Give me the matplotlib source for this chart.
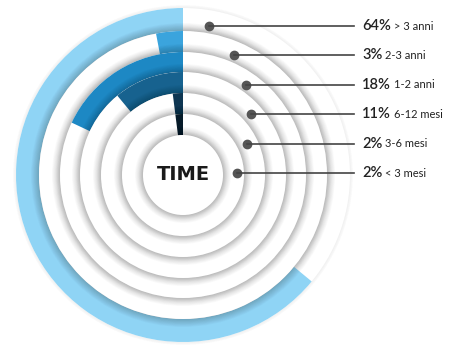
import numpy as np
import matplotlib.pyplot as plt

# data
labels = ['> 3 anni', '2-3 anni', '1-2 anni', '6-12 mesi', '3-6 mesi', '< 3 mesi']
percent = [64, 3, 18, 11, 2, 2]
colors = ['#8fd4f5', '#3ba4dd', '#1d88c4', '#17628f', '#0e3652', '#061b29']

# ring edges (outer -> inner), last one is the TIME disc
ring_edges = [167, 144, 123, 103, 82, 61, 40]
dot_angle = [10, 23, 35, 48, 64, 88]     # degrees, clockwise from top
dot_r = [151, 130, 110, 91, 71, 54]

fig = plt.figure(figsize=(4.62, 3.45), dpi=100)
R = 170
ax = fig.add_axes([(183 - R) / 462, (170 - R) / 345, 2 * R / 462, 2 * R / 345],
                  projection='polar')
ax.set_theta_zero_location('N')
ax.set_theta_direction(1)
ax.set_ylim(0, R)
ax.axis('off')

full = 2 * np.pi


def shadow(r, n=12, a=0.018):
    for k in range(n):
        ax.bar(0, (n - k) * 0.75, bottom=r - 1, width=full, color='k',
               alpha=a, linewidth=0)


for i in range(len(percent)):
    r_out, r_in = ring_edges[i], ring_edges[i + 1]
    if i == 0:
        shadow(r_out, n=6, a=0.012)
    else:
        shadow(r_out)
    ax.bar(0, r_out, bottom=0, width=full, color='white', linewidth=0)
    # faint inner shading for the raised look
    for k in range(5):
        ax.bar(0, (5 - k) * 0.8, bottom=r_in, width=full, color='k',
               alpha=0.012, linewidth=0)
    ax.bar(0, r_out - r_in, bottom=r_in, width=percent[i] / 100 * full,
           align='edge', color=colors[i], linewidth=0)

# centre disc
shadow(ring_edges[-1])
ax.bar(0, ring_edges[-1], bottom=0, width=full, color='white', linewidth=0)
ax.text(0, 0, 'TIME', ha='center', va='center', fontsize=14,
        fontweight='bold', color='#1a1a1a', family='DejaVu Sans')

# leader lines and labels
fig.canvas.draw()
renderer = fig.canvas.get_renderer()
for i in range(len(percent)):
    th = -np.deg2rad(dot_angle[i])
    ax.plot(th, dot_r[i], 'o', color='#555555', markersize=6, zorder=5,
            clip_on=False)
    x0, y0 = ax.transData.transform((th, dot_r[i]))
    fig.add_artist(plt.Line2D([x0, 354], [y0, y0], transform=None,
                              color='#444444', linewidth=1.2))
    t = fig.text(362 / 462, y0 / 345, '%d%%' % percent[i], fontsize=10.5,
                 fontweight='semibold', color='#222222', va='center',
                 ha='left', family='Lato')
    bb = t.get_window_extent(renderer)
    fig.text((bb.x1 + 3) / 462, y0 / 345, labels[i], fontsize=8,
             color='#222222', va='center', ha='left', family='Lato')

fig.savefig('out.png', dpi=100)
